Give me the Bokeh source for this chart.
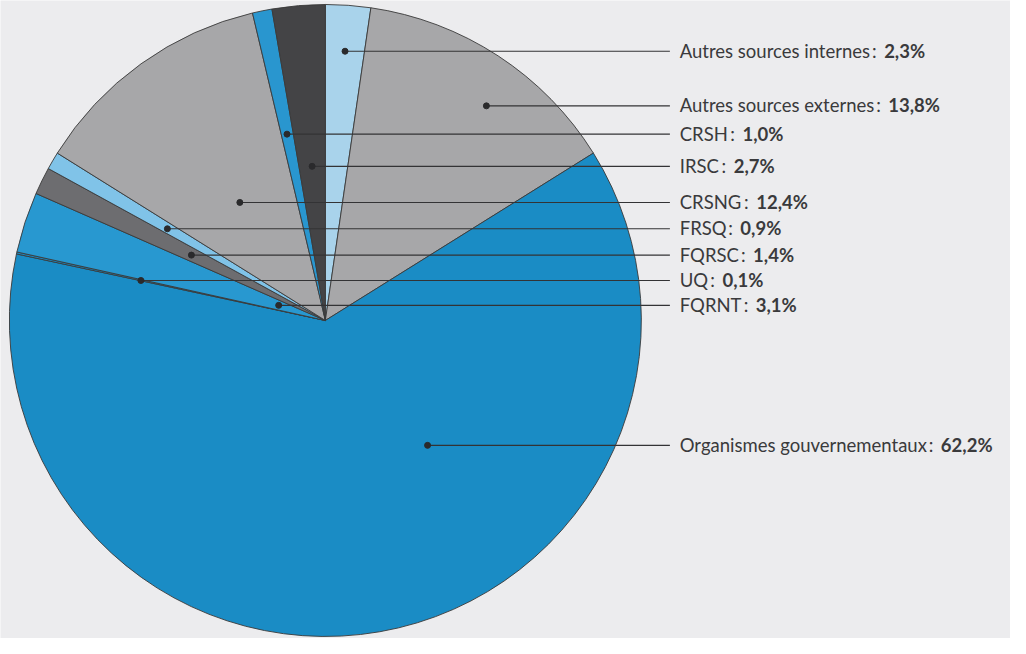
import math
from bokeh.plotting import figure
from bokeh.models import Range1d, ColumnDataSource
from bokeh.core.properties import value
from bokeh.embed import file_html
from bokeh.resources import INLINE

# ---- data (slices clockwise from 12 o'clock) ----
names = ["Autres sources internes", "Autres sources externes", "Organismes gouvernementaux",
         "UQ", "FQRNT", "FQRSC", "FRSQ", "CRSNG", "CRSH", "IRSC"]
shares = [2.3, 13.8, 62.2, 0.1, 3.1, 1.4, 0.9, 12.4, 1.0, 2.7]

# ---- styles / layout (reference pixel frame 1026 x 654) ----
colors = ["#a9d3eb", "#a7a7a9", "#1a8cc5", "#1a8cc5", "#2898d0", "#6d6d70",
          "#80c3e8", "#a7a7a9", "#2996cf", "#444446"]
label_y = [52, 108, 456, 287, 312.5, 261, 234, 207, 137, 170]   # leader line heights (px from top)
dot_frac = [0.5, 0.57, 0.37, 0.5, 0.5, 0.5, 0.5, 0.5, 0.5, 0.5]  # position within slice span
CX, CY, R = 330, 328, 321
LINE_END, TEXT_X = 680, 690
FS = 18.5
BG = "#ececee"
TXT = "#3a3a3c"

W, H = 1010, 638
XS = W / 1026.0  # pixels per data unit along x
p = figure(width=W, height=H, output_backend="svg", toolbar_location=None,
           x_range=Range1d(0, 1026), y_range=Range1d(-654, 0),
           min_border=0, outline_line_color=None, background_fill_color=BG,
           border_fill_color=BG)
p.axis.visible = False
p.grid.visible = False

total = sum(shares)
cum = 0.0
starts, ends, mids = [], [], []
for s, f in zip(shares, dot_frac):
    a_hi = math.pi / 2 - 2 * math.pi * cum / total
    cum += s
    a_lo = math.pi / 2 - 2 * math.pi * cum / total
    starts.append(a_lo)
    ends.append(a_hi)
    mids.append(a_hi - f * (a_hi - a_lo))

src = ColumnDataSource(dict(start=starts, end=ends, color=colors))
p.wedge(x=CX, y=-CY, radius=R, start_angle="start", end_angle="end", direction="anticlock",
        fill_color="color", line_color="#3a3a3a", line_width=0.9, source=src)

# dots on the slice ray at the label height
dot_x, dot_y = [], []
for a, ly in zip(mids, label_y):
    dy = CY - ly
    dx = dy / math.tan(a)
    dot_x.append(CX + dx)
    dot_y.append(-ly)

p.segment(x0=dot_x, y0=dot_y, x1=[LINE_END] * len(dot_x), y1=dot_y,
          line_color="#333335", line_width=1.1)
p.scatter(x=dot_x, y=dot_y, size=6, color="#2a2a2c")

# approximate advance widths (em) for Lato
CW = {' ': .193, ':': .25, ',': .25, '%': .80, 'A': .68, 'C': .67, 'F': .53, 'G': .72, 'H': .75,
      'I': .29, 'N': .75, 'O': .78, 'Q': .78, 'R': .61, 'S': .52, 'T': .58, 'U': .72,
      'a': .49, 'c': .45, 'e': .51, 'g': .47, 'i': .23, 'm': .80, 'n': .55, 'o': .55,
      'r': .37, 's': .41, 't': .35, 'u': .55, 'v': .50, 'x': .49}


def tw(s, size):
    """estimated width in data units"""
    return 1.03 * sum(CW.get(c, 0.58) for c in s) * size / XS


val_txt = [f"{v:.1f}".replace(".", ",") + "%" for v in shares]
colon_x = [TEXT_X + tw(n, FS) + 2 for n in names]
val_x = [cx + tw(":", FS) + 7.5 for cx in colon_x]
ty = [-(ly - 0.5) for ly in label_y]

font = value("Lato")
common = dict(text_font=font, text_font_size=f"{FS}px", text_color=TXT,
              text_baseline="middle", text_align="left")
p.text(x=[TEXT_X] * len(names), y=ty, text=names, **common)
p.text(x=colon_x, y=ty, text=[":"] * len(names), **common)
p.text(x=val_x, y=ty, text=val_txt, text_font_style="bold", **common)

open("out.html", "w").write(file_html(p, INLINE))
